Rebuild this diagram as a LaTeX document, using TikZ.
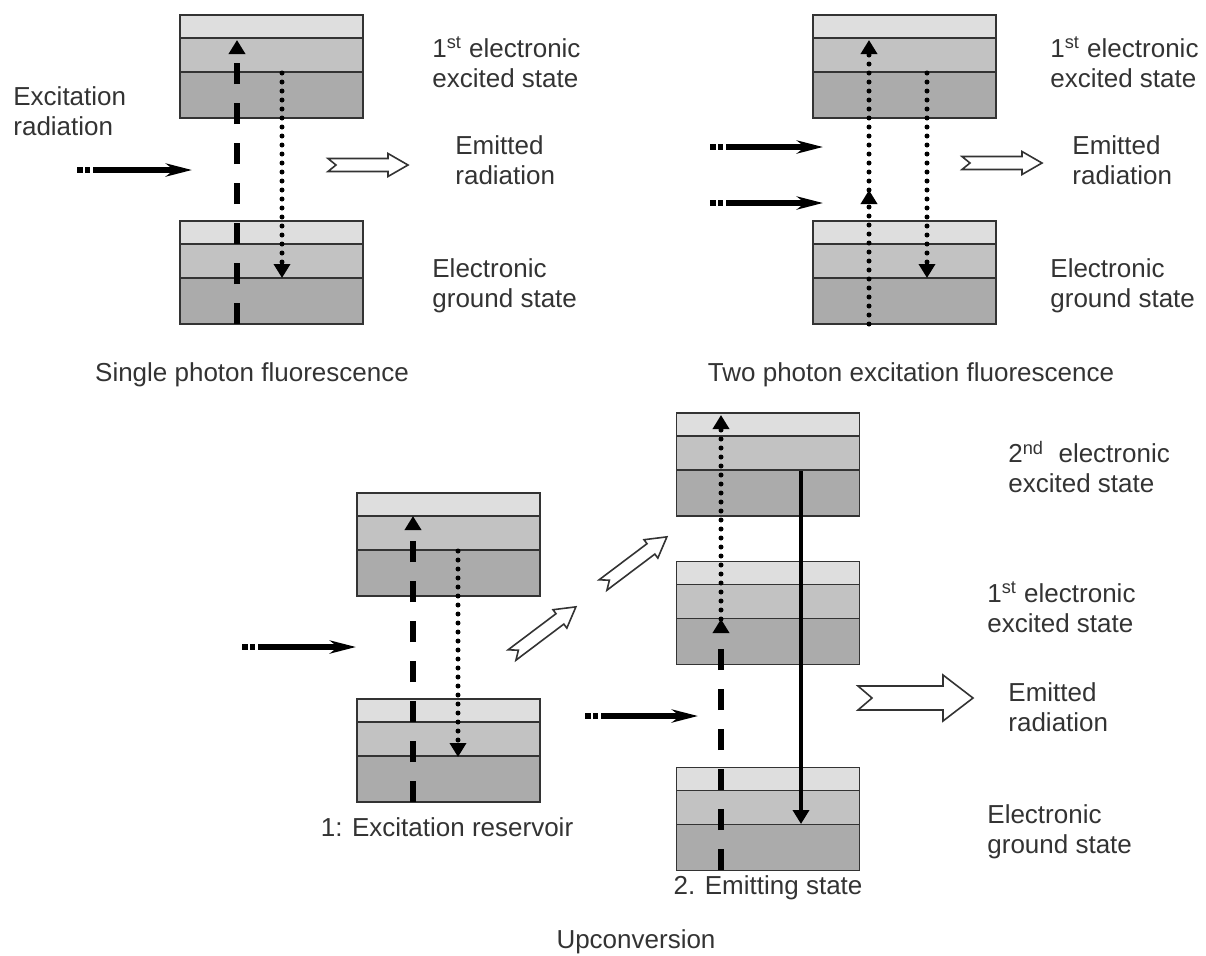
\documentclass[tikz,border=0pt]{standalone}
\usepackage{fontspec}
\setmainfont{Liberation Sans}
\usetikzlibrary{arrows.meta}

\definecolor{bandlight}{gray}{0.87}
\definecolor{bandmid}{gray}{0.76}
\definecolor{banddark}{gray}{0.67}
\definecolor{rim}{gray}{0.2}

\tikzset{
  level/.style={draw=rim, line width=0.9pt, fill=banddark,
    minimum width=91.5pt, minimum height=51.5pt, inner sep=0pt, outer sep=0pt,
    path picture={
      \fill[bandlight] (path picture bounding box.north west) rectangle ([yshift=-11.5pt]path picture bounding box.north east);
      \fill[bandmid] ([yshift=-11.5pt]path picture bounding box.north west) rectangle ([yshift=-28.5pt]path picture bounding box.north east);
      \draw[rim, line width=0.9pt]
        ([yshift=-11.5pt]path picture bounding box.north west) -- ([yshift=-11.5pt]path picture bounding box.north east)
        ([yshift=-28.5pt]path picture bounding box.north west) -- ([yshift=-28.5pt]path picture bounding box.north east);
    }},
  statetext/.style={anchor=west, align=left, inner sep=0pt, text=black!80,
    font=\fontsize{13}{15}\selectfont},
  caption/.style={inner sep=0pt, text=black!80, font=\fontsize{13}{15}\selectfont},
  pump/.style={line width=2.7pt, dash pattern={on 3pt off 1pt on 2.5pt off 1.5pt on 300pt},
    -{Stealth[length=13pt,width=6.5pt,inset=4pt]}},
  jump/.style={line width=2.6pt, dash pattern=on 10.5pt off 9.5pt,
    -{Triangle[length=7pt,width=8pt]}},
  hop/.style={line width=2.5pt, line cap=round, dash pattern=on 0pt off 4.5pt,
    -{Triangle[length=7pt,width=8pt]}},
  decay/.style={line width=2.2pt, -{Triangle[length=7pt,width=8pt]}},
  hollow/.style={draw=rim, fill=white, line width=0.8pt, line join=miter},
  pics/glow/.style={code={
    \draw[hollow] (0,-6.5) -- (60,-6.5) -- (60,-11.5) -- (80,0) -- (60,11.5)
      -- (60,6.5) -- (0,6.5) -- (8,0) -- cycle;
  }},
  pics/bigglow/.style={code={
    \draw[hollow] (0,-12) -- (85,-12) -- (85,-23) -- (115,0) -- (85,23)
      -- (85,12) -- (0,12) -- (14,0) -- cycle;
  }},
}

\begin{document}
\begin{tikzpicture}[x=0.5pt,y=-0.5pt]
  \useasboundingbox (0,0) rectangle (1206,955);

  % single photon fluorescence
  \node[level] (A1) at (271.5,66.5)  {};
  \node[level] (A0) at (271.5,272.5) {};

  \coordinate (a-in)   at (77,170);
  \coordinate (a-hit)  at (192,170);
  \coordinate (a-up0)  at (237,324);
  \coordinate (a-up1)  at (237,40);
  \coordinate (a-dn0)  at (282,73);
  \coordinate (a-dn1)  at (282,278);

  \draw[pump] (a-in) -- (a-hit);
  \draw[jump] (a-up0) -- (a-up1);
  \draw[hop]  (a-dn0) -- (a-dn1);
  \pic at (328,165) {glow};

  \node[statetext] (a-exc) at (13,111)  {Excitation\\radiation};
  \node[statetext] (a-s1)  at (432,62)  {1\textsuperscript{st} electronic\\excited state};
  \node[statetext] (a-em)  at (455,160) {Emitted\\radiation};
  \node[statetext] (a-s0)  at (432,286) {Electronic\\ground state};
  \node[caption]   (a-cap) at (252,375) {Single photon fluorescence};

  % two photon excitation fluorescence
  \node[level] (B1) at (904.5,66.5)  {};
  \node[level] (B0) at (904.5,272.5) {};

  \coordinate (b-in1)  at (710,147);
  \coordinate (b-hit1) at (823,147);
  \coordinate (b-in2)  at (710,203);
  \coordinate (b-hit2) at (823,203);
  \coordinate (b-up0)  at (869,324);
  \coordinate (b-virt) at (869,190);
  \coordinate (b-up1)  at (869,40);
  \coordinate (b-dn0)  at (927,73);
  \coordinate (b-dn1)  at (927,278);

  \draw[pump] (b-in1) -- (b-hit1);
  \draw[pump] (b-in2) -- (b-hit2);
  \draw[hop]  (b-up0) -- (b-virt);
  \draw[hop]  (b-virt) -- (b-up1);
  \draw[hop]  (b-dn0) -- (b-dn1);
  \pic at (962,163) {glow};

  \node[statetext] (b-s1)  at (1050,62)  {1\textsuperscript{st} electronic\\excited state};
  \node[statetext] (b-em)  at (1072,160) {Emitted\\radiation};
  \node[statetext] (b-s0)  at (1050,286) {Electronic\\ground state};
  \node[caption]   (b-cap) at (911,375)  {Two photon excitation fluorescence};

  % upconversion
  \node[level] (R1) at (448.5,544.5) {};
  \node[level] (R0) at (448.5,750.5) {};
  \node[level] (E2) at (768,464.5)   {};
  \node[level] (E1) at (768,613)     {};
  \node[level] (E0) at (768,819)     {};

  \coordinate (r-in)   at (242,647);
  \coordinate (r-hit)  at (356,647);
  \coordinate (r-up0)  at (413,802);
  \coordinate (r-up1)  at (413,516);
  \coordinate (r-dn0)  at (458,551);
  \coordinate (r-dn1)  at (458,757);
  \coordinate (e-in)   at (585,716);
  \coordinate (e-hit)  at (698,716);
  \coordinate (e-up0)  at (721,870);
  \coordinate (e-mid)  at (721,619);
  \coordinate (e-up1)  at (721,415);
  \coordinate (e-dn0)  at (801,471);
  \coordinate (e-dn1)  at (801,824);

  \draw[pump]  (r-in) -- (r-hit);
  \draw[jump]  (r-up0) -- (r-up1);
  \draw[hop]   (r-dn0) -- (r-dn1);
  \draw[pump]  (e-in) -- (e-hit);
  \draw[jump]  (e-up0) -- (e-mid);
  \draw[hop]   (e-mid) -- (e-up1);
  \draw[decay] (e-dn0) -- (e-dn1);
  \pic[rotate=37] at (512,655) {glow};
  \pic[rotate=37] at (603,585) {glow};
  \pic at (858,698) {bigglow};

  \node[statetext] (e-s2)  at (1008,467) {2\textsuperscript{nd}\ \ electronic\\excited state};
  \node[statetext] (e-s1)  at (987,607)  {1\textsuperscript{st} electronic\\excited state};
  \node[statetext] (e-em)  at (1008,707) {Emitted\\radiation};
  \node[statetext] (e-s0)  at (987,832)  {Electronic\\ground state};
  \node[caption]   (r-cap) at (447,827)  {1: Excitation reservoir};
  \node[caption]   (e-cap) at (768,888)  {2. Emitting state};
  \node[caption]   (u-cap) at (636,942)  {Upconversion};
\end{tikzpicture}
\end{document}
